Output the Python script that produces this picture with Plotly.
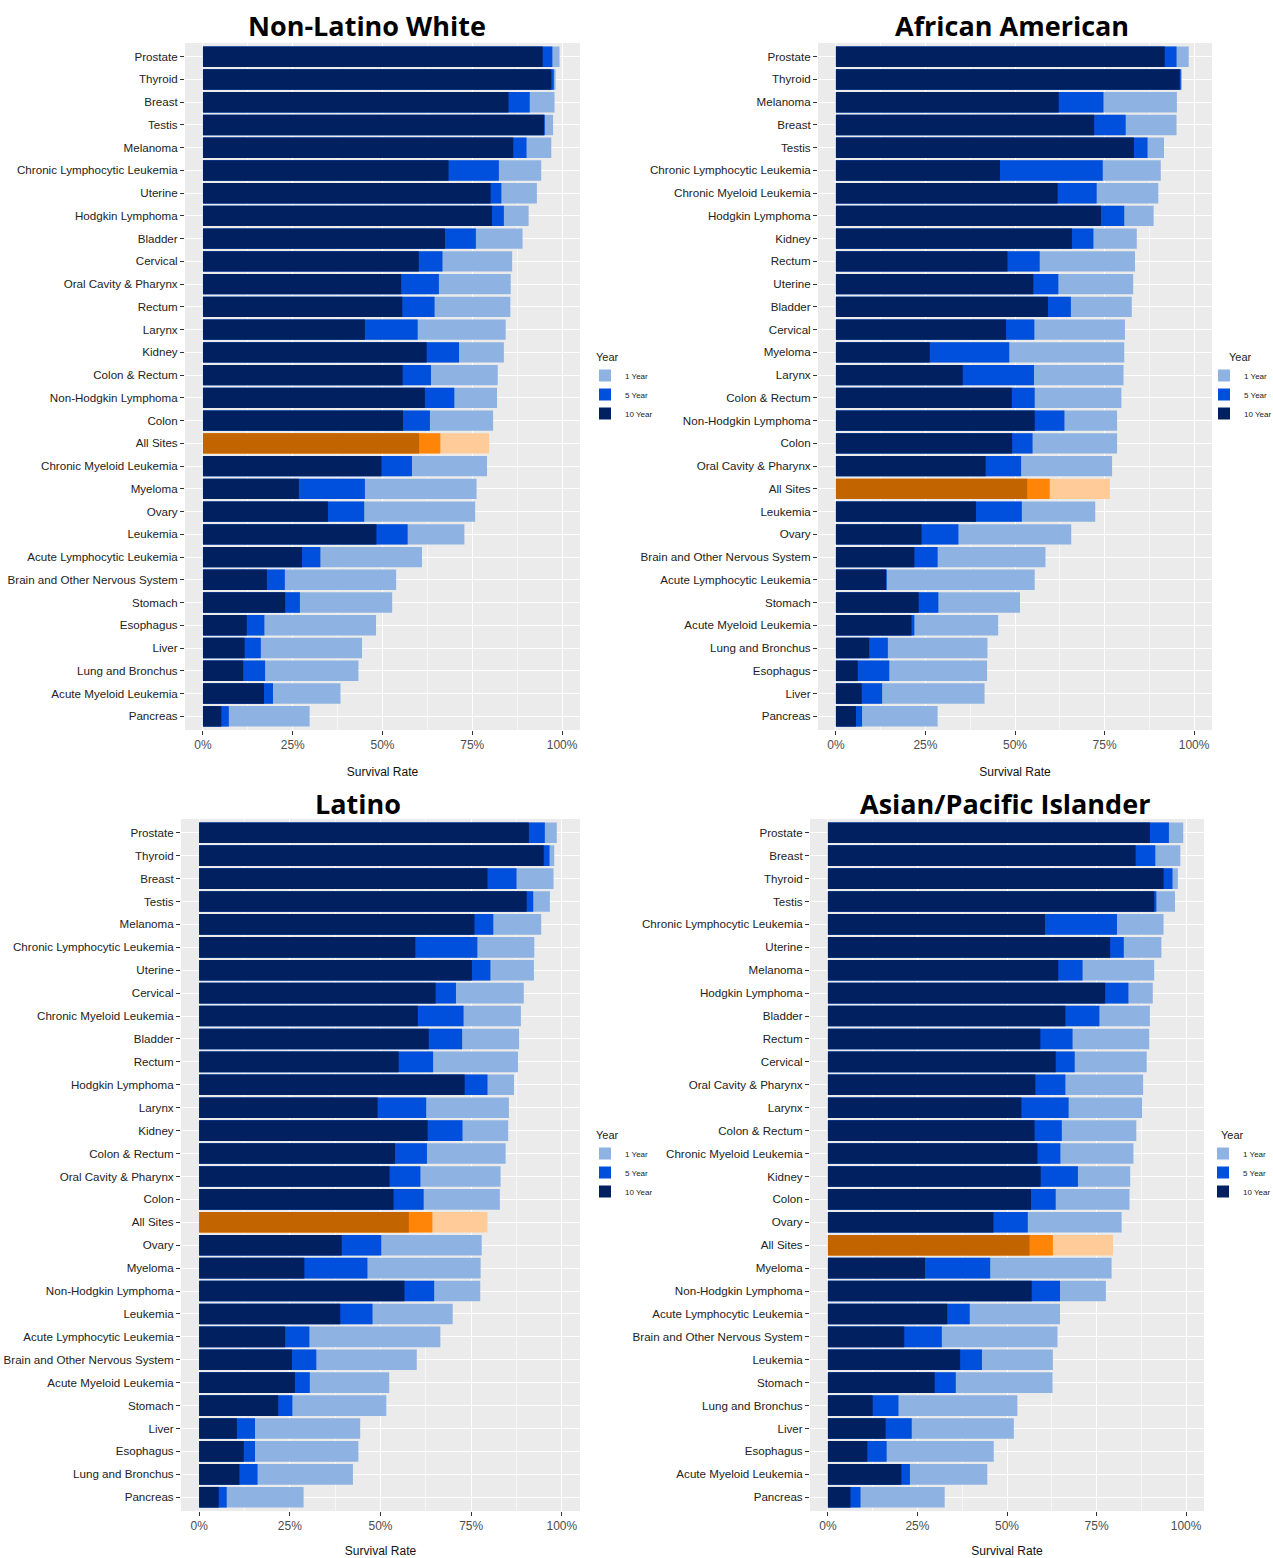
import plotly.graph_objects as go

W, H = 1273, 1558

# ---------------- DATA ----------------
nlw_sites = ["Prostate", "Thyroid", "Breast", "Testis", "Melanoma", "Chronic Lymphocytic Leukemia",
             "Uterine", "Hodgkin Lymphoma", "Bladder", "Cervical", "Oral Cavity & Pharynx", "Rectum",
             "Larynx", "Kidney", "Colon & Rectum", "Non-Hodgkin Lymphoma", "Colon", "All Sites",
             "Chronic Myeloid Leukemia", "Myeloma", "Ovary", "Leukemia", "Acute Lymphocytic Leukemia",
             "Brain and Other Nervous System", "Stomach", "Esophagus", "Liver", "Lung and Bronchus",
             "Acute Myeloid Leukemia", "Pancreas"]
nlw_1yr = [99.3, 98.2, 97.9, 97.5, 97.0, 94.2, 93.0, 90.7, 89.0, 86.1, 85.7, 85.6, 84.3, 83.8, 82.1,
           81.9, 80.8, 79.7, 79.1, 76.2, 75.8, 72.8, 61.0, 53.8, 52.7, 48.2, 44.3, 43.3, 38.3, 29.7]
nlw_5yr = [97.3, 97.7, 91.0, 95.2, 90.1, 82.4, 83.1, 83.8, 76.0, 66.7, 65.7, 64.5, 59.8, 71.3, 63.5,
           70.0, 63.2, 66.1, 58.2, 45.1, 44.9, 57.0, 32.7, 22.8, 27.0, 17.1, 16.1, 17.3, 19.5, 7.2]
nlw_10yr = [94.6, 97.0, 85.1, 95.0, 86.4, 68.4, 80.1, 80.5, 67.4, 60.1, 55.2, 55.5, 45.1, 62.3, 55.6,
            61.8, 55.7, 60.2, 49.7, 26.7, 34.8, 48.3, 27.6, 17.8, 22.9, 12.2, 11.6, 11.2, 17.0, 5.1]

aa_sites = ["Prostate", "Thyroid", "Melanoma", "Breast", "Testis", "Chronic Lymphocytic Leukemia",
            "Chronic Myeloid Leukemia", "Hodgkin Lymphoma", "Kidney", "Rectum", "Uterine", "Bladder",
            "Cervical", "Myeloma", "Larynx", "Colon & Rectum", "Non-Hodgkin Lymphoma", "Colon",
            "Oral Cavity & Pharynx", "All Sites", "Leukemia", "Ovary", "Brain and Other Nervous System",
            "Acute Lymphocytic Leukemia", "Stomach", "Acute Myeloid Leukemia", "Lung and Bronchus",
            "Esophagus", "Liver", "Pancreas"]
aa_1yr = [98.5, 96.6, 95.2, 95.1, 91.6, 90.7, 90.0, 88.7, 84.0, 83.5, 83.0, 82.6, 80.7, 80.5, 80.3,
          79.7, 78.5, 78.5, 77.1, 76.5, 72.4, 65.7, 58.5, 55.5, 51.4, 45.3, 42.3, 42.2, 41.5, 28.4]
aa_5yr = [95.1, 96.3, 74.7, 80.9, 87.0, 74.5, 72.8, 80.5, 71.9, 56.9, 62.1, 65.6, 55.4, 48.4, 55.3,
          55.5, 63.8, 54.9, 51.7, 59.7, 51.9, 34.2, 28.4, 14.2, 28.6, 21.9, 14.5, 14.9, 12.9, 7.3]
aa_10yr = [91.8, 96.0, 62.2, 72.1, 83.2, 45.8, 61.9, 74.0, 65.9, 47.9, 55.1, 59.2, 47.5, 26.2, 35.4,
           49.1, 55.5, 49.2, 41.8, 53.4, 39.1, 23.9, 21.9, 14.0, 23.1, 21.1, 9.3, 6.1, 7.2, 5.6]

lat_sites = ["Prostate", "Thyroid", "Breast", "Testis", "Melanoma", "Chronic Lymphocytic Leukemia",
             "Uterine", "Cervical", "Chronic Myeloid Leukemia", "Bladder", "Rectum", "Hodgkin Lymphoma",
             "Larynx", "Kidney", "Colon & Rectum", "Oral Cavity & Pharynx", "Colon", "All Sites", "Ovary",
             "Myeloma", "Non-Hodgkin Lymphoma", "Leukemia", "Acute Lymphocytic Leukemia",
             "Brain and Other Nervous System", "Acute Myeloid Leukemia", "Stomach", "Liver", "Esophagus",
             "Lung and Bronchus", "Pancreas"]
lat_1yr = [98.6, 97.9, 97.7, 96.7, 94.3, 92.4, 92.3, 89.5, 88.7, 88.2, 87.9, 86.8, 85.4, 85.2, 84.5,
           83.1, 82.9, 79.5, 77.9, 77.6, 77.5, 69.9, 66.5, 60.0, 52.4, 51.6, 44.4, 43.9, 42.4, 28.8]
lat_5yr = [95.3, 96.6, 87.5, 92.1, 81.1, 76.7, 80.3, 70.8, 72.9, 72.5, 64.5, 79.5, 62.6, 72.6, 62.8,
           61.0, 61.9, 64.3, 50.2, 46.4, 64.8, 47.8, 30.4, 32.3, 30.5, 25.7, 15.4, 15.4, 16.1, 7.6]
lat_10yr = [90.9, 95.0, 79.5, 90.3, 75.9, 59.6, 75.2, 65.2, 60.3, 63.3, 55.0, 73.2, 49.2, 63.0, 54.0,
            52.5, 53.6, 57.8, 39.3, 29.0, 56.6, 38.9, 23.7, 25.6, 26.4, 21.8, 10.4, 12.3, 11.1, 5.4]

api_sites = ["Prostate", "Breast", "Thyroid", "Testis", "Chronic Lymphocytic Leukemia", "Uterine",
             "Melanoma", "Hodgkin Lymphoma", "Bladder", "Rectum", "Cervical", "Oral Cavity & Pharynx",
             "Larynx", "Colon & Rectum", "Chronic Myeloid Leukemia", "Kidney", "Colon", "Ovary",
             "All Sites", "Myeloma", "Non-Hodgkin Lymphoma", "Acute Lymphocytic Leukemia",
             "Brain and Other Nervous System", "Leukemia", "Stomach", "Lung and Bronchus", "Liver",
             "Esophagus", "Acute Myeloid Leukemia", "Pancreas"]
api_1yr = [99.2, 98.4, 97.7, 96.9, 93.7, 93.1, 91.1, 90.7, 89.9, 89.7, 89.0, 88.0, 87.7, 86.1, 85.3,
           84.4, 84.2, 82.0, 79.6, 79.2, 77.6, 64.8, 64.1, 62.8, 62.7, 52.9, 51.9, 46.3, 44.5, 32.6]
api_5yr = [95.2, 91.4, 96.2, 91.7, 80.7, 82.6, 71.1, 83.9, 75.8, 68.3, 68.9, 66.3, 67.2, 65.3, 64.9,
           69.8, 63.6, 55.8, 62.8, 45.3, 64.8, 39.6, 31.8, 43.0, 35.7, 19.7, 23.4, 16.4, 22.9, 9.1]
api_10yr = [89.9, 85.9, 93.7, 91.1, 60.6, 78.8, 64.3, 77.4, 66.3, 59.3, 63.6, 57.9, 54.0, 57.7, 58.5,
            59.4, 56.7, 46.2, 56.3, 27.1, 56.9, 33.3, 21.3, 36.9, 29.8, 12.5, 16.1, 11.0, 20.5, 6.3]

panel_titles = ["Non-Latino White", "African American", "Latino", "Asian/Pacific Islander"]
year_labels = ["1 Year", "5 Year", "10 Year"]
legend_title = "Year"
x_ticks = [0, 25, 50, 75, 100]

# ---------------- STYLE ----------------
blue_cols = {"1 Year": "#8EB3E2", "5 Year": "#004FDD", "10 Year": "#002060"}
orange_cols = {"1 Year": "#FFCC99", "5 Year": "#FF8508", "10 Year": "#C26400"}
FONT = "Liberation Sans, Arial, sans-serif"


def px_x(v):
    return v / W


def px_y(v):
    return 1 - v / H


# pixel geometry of each panel: (left, right, top, bottom), legend top-left,
# legend-title position, panel-title centre
geom = [
    dict(box=(185, 580, 43, 730), leg=(585, 361), ltitle=(594, 357), title=(367, 25)),
    dict(box=(818, 1212, 43, 730), leg=(1204, 361), ltitle=(1227, 357), title=(1012, 25)),
    dict(box=(181, 580, 819, 1511), leg=(585, 1139), ltitle=(594, 1135), title=(358, 803)),
    dict(box=(810, 1204, 819, 1511), leg=(1203, 1139), ltitle=(1219, 1135), title=(1005, 803)),
]

panels = [
    (nlw_sites, nlw_1yr, nlw_5yr, nlw_10yr),
    (aa_sites, aa_1yr, aa_5yr, aa_10yr),
    (lat_sites, lat_1yr, lat_5yr, lat_10yr),
    (api_sites, api_1yr, api_5yr, api_10yr),
]

fig = go.Figure()
layout = dict(
    width=W, height=H, margin=dict(l=0, r=0, t=0, b=0, autoexpand=False),
    paper_bgcolor="white", plot_bgcolor="#EBEBEB",
    barmode="overlay", bargap=0.1,
    annotations=[],
)

for i, ((sites, y1, y5, y10), g) in enumerate(zip(panels, geom)):
    k = "" if i == 0 else str(i + 1)
    legname = "legend" + k
    for lab, vals in zip(year_labels, [y1, y5, y10]):
        cols = [orange_cols[lab] if s == "All Sites" else blue_cols[lab] for s in sites]
        fig.add_trace(go.Bar(
            x=vals, y=sites, orientation="h", name=lab,
            marker=dict(color=cols, line=dict(width=0)), opacity=1,
            xaxis="x" + k, yaxis="y" + k, legend=legname,
            hovertemplate="%{y}: %{x:.1f}%<extra>" + lab + "</extra>",
        ))
    l, r, t, b = g["box"]
    n = len(sites)
    layout["xaxis" + k] = dict(
        domain=[px_x(l), px_x(r)], anchor="y" + k, range=[-5, 105],
        tickvals=x_ticks, ticktext=[f"{v}%" for v in x_ticks],
        ticks="outside", ticklen=4, tickcolor="#333333", tickwidth=1,
        tickfont=dict(family=FONT, size=12, color="#4D4D4D"),
        showgrid=True, gridcolor="white", gridwidth=1.3, zeroline=False, showline=False,
        minor=dict(tickvals=[12.5, 37.5, 62.5, 87.5], showgrid=True, gridcolor="#F7F7F7", gridwidth=0.6),
        title=dict(text="Survival Rate", font=dict(family=FONT, size=12, color="#111111"), standoff=16),
    )
    layout["yaxis" + k] = dict(
        domain=[px_y(b), px_y(t)], anchor="x" + k, type="category",
        categoryorder="array", categoryarray=sites, range=[n - 1 + 0.6, -0.6],
        ticks="outside", ticklen=4, tickcolor="#333333", tickwidth=1,
        tickfont=dict(family=FONT, size=11.6, color="#222222"),
        showgrid=True, gridcolor="white", gridwidth=1.3, zeroline=False, showline=False,
    )
    lx, ly = g["leg"]
    layout[legname] = dict(
        x=px_x(lx), y=px_y(ly), xanchor="left", yanchor="top",
        bgcolor="rgba(0,0,0,0)", traceorder="normal",
        font=dict(family=FONT, size=8, color="#222222"),
        itemwidth=30, tracegroupgap=0,
    )
    ltx, lty = g["ltitle"]
    layout["annotations"].append(dict(
        text=legend_title, x=px_x(ltx), y=px_y(lty), xref="paper", yref="paper",
        xanchor="left", yanchor="middle", showarrow=False,
        font=dict(family=FONT, size=11, color="#222222"),
    ))
    tx, ty = g["title"]
    layout["annotations"].append(dict(
        text="<b>" + panel_titles[i] + "</b>", x=px_x(tx), y=px_y(ty),
        xref="paper", yref="paper", xanchor="center", yanchor="middle",
        showarrow=False, font=dict(family="Open Sans, sans-serif", size=27, color="black"),
    ))

fig.update_layout(**layout)
fig.write_html("out.html", config={"displayModeBar": False},
               post_script="document.body.style.margin='0px';")
